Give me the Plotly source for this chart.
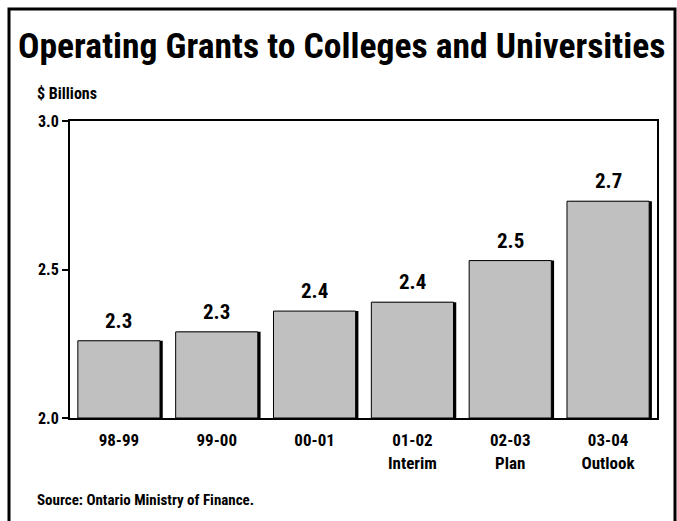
import plotly.graph_objects as go

# Operating grants by fiscal year, $ billions
categories = ["98-99", "99-00", "00-01", "01-02<br>Interim", "02-03<br>Plan", "03-04<br>Outlook"]
grants = [2.26, 2.29, 2.36, 2.39, 2.53, 2.73]
y_ticks = [2.0, 2.5, 3.0]

FONT = "Roboto Condensed, Open Sans Condensed, Liberation Sans, sans-serif"
W, H = 677, 521
L, R, T, B = 70, 20, 121, 103
PW, PH = W - L - R, H - T - B

def px(x):
    return (x - L) / PW

def py(y):
    return (H - B - y) / PH

x_idx = list(range(len(categories)))
bar_w = 0.84

fig = go.Figure()
# drop shadow on the right edge of each bar
fig.add_trace(go.Bar(
    x=x_idx, y=[v - 2.0 for v in grants], base=2.0,
    width=bar_w, offset=-bar_w / 2 + 0.028,
    marker=dict(color="black", line=dict(width=0)),
    hoverinfo="skip", showlegend=False,
))
fig.add_trace(go.Bar(
    x=x_idx, y=[v - 2.0 for v in grants], base=2.0,
    width=bar_w, offset=-bar_w / 2,
    marker=dict(color="#c0c0c0", line=dict(color="black", width=1)),
    showlegend=False,
))

annotations = []
for i, v in enumerate(grants):
    annotations.append(dict(
        x=i, y=v, xref="x", yref="y", text=f"<b>{v:.1f}</b>",
        showarrow=False, yanchor="bottom", yshift=6,
        font=dict(family=FONT, size=21, color="black"),
    ))

annotations += [
    dict(x=px(16), y=py(46), xref="paper", yref="paper", xanchor="left", yanchor="middle",
         text="<b>Operating Grants to Colleges and Universities</b>", showarrow=False,
         font=dict(family=FONT, size=35.6, color="black")),
    dict(x=px(35), y=py(93), xref="paper", yref="paper", xanchor="left", yanchor="middle",
         text="<b>$ Billions</b>", showarrow=False,
         font=dict(family=FONT, size=16, color="black")),
    dict(x=px(35), y=py(500), xref="paper", yref="paper", xanchor="left", yanchor="middle",
         text="<b>Source: Ontario Ministry of Finance.</b>", showarrow=False,
         font=dict(family=FONT, size=15, color="black")),
]

fig.update_layout(
    width=W, height=H,
    margin=dict(l=L, r=R, t=T, b=B, pad=0),
    paper_bgcolor="white", plot_bgcolor="white",
    barmode="overlay",
    annotations=annotations,
    shapes=[dict(type="rect", xref="paper", yref="paper",
                 x0=px(9), x1=px(675), y0=py(540), y1=py(9),
                 line=dict(color="black", width=3), fillcolor="rgba(0,0,0,0)")],
    xaxis=dict(
        range=[-0.5, len(categories) - 0.5],
        tickmode="array", tickvals=x_idx, ticktext=[f"<b>{c}</b>" for c in categories],
        showline=True, linecolor="black", linewidth=2, mirror=True,
        showgrid=False, zeroline=False, ticks="",
        ticklabelstandoff=6,
        tickfont=dict(family=FONT, size=17, color="black"),
        fixedrange=True,
    ),
    yaxis=dict(
        range=[2.0, 3.0],
        tickmode="array", tickvals=y_ticks, ticktext=[f"<b>{t:.1f}</b>" for t in y_ticks],
        showline=True, linecolor="black", linewidth=2, mirror=True,
        showgrid=False, zeroline=False,
        ticks="outside", ticklen=6, tickwidth=2, tickcolor="black",
        tickfont=dict(family=FONT, size=16, color="black"),
        fixedrange=True,
    ),
)

fig.write_html("out.html")
